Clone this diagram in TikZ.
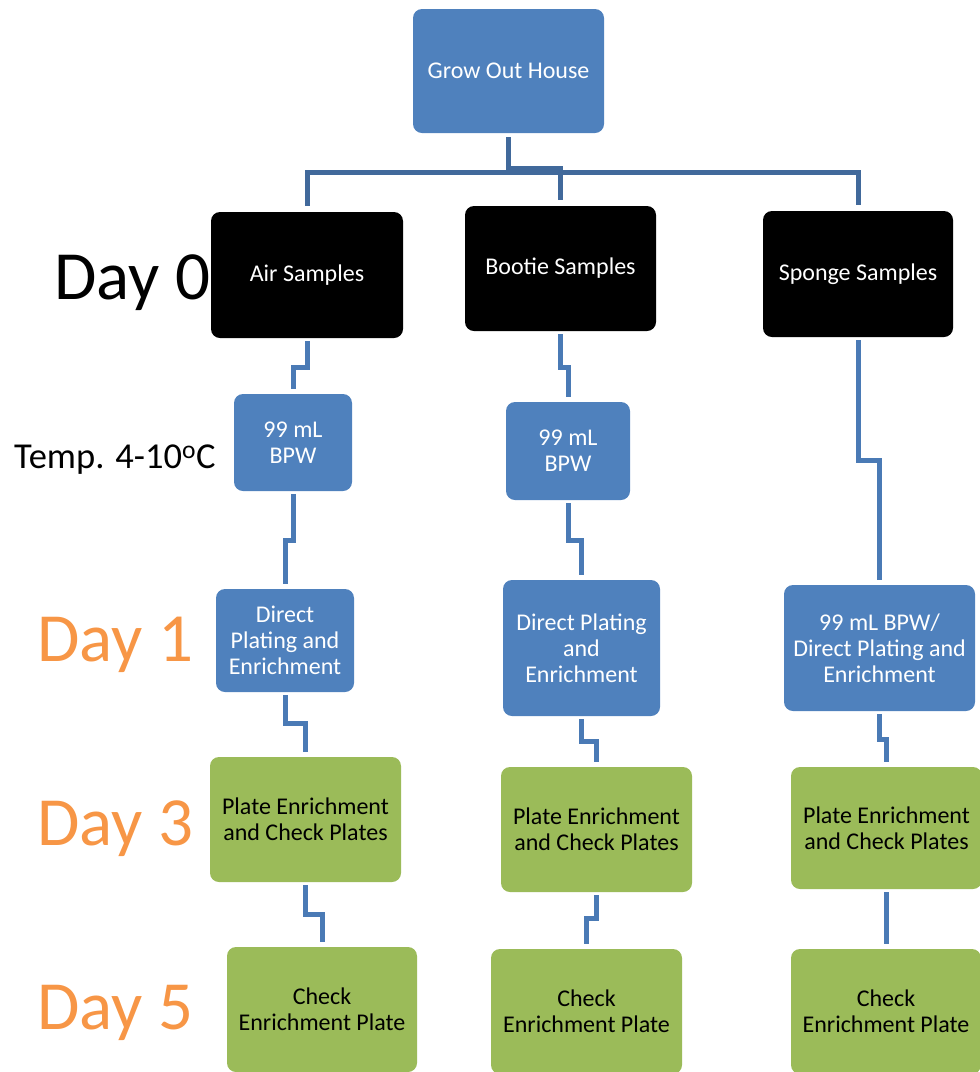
\documentclass[tikz,border=0pt]{standalone}
\usepackage{fontspec}
\setmainfont{Carlito}
\usetikzlibrary{calc}
\definecolor{boxblue}{HTML}{4F81BD}
\definecolor{boxgreen}{HTML}{9BBB59}
\definecolor{lineblue}{HTML}{4A7AB5}
\definecolor{topline}{HTML}{41699B}
\definecolor{dayorange}{HTML}{F79646}
\begin{document}
\begin{tikzpicture}[x=1pt,y=-1pt,
  box/.style={rounded corners=9pt, inner sep=0pt, align=center, font=\fontsize{24}{26}\selectfont},
  bluebox/.style={box, fill=boxblue, text=white},
  blackbox/.style={box, fill=black, text=white},
  greenbox/.style={box, fill=boxgreen, text=black},
  conn/.style={draw=lineblue, line width=5pt, shorten <=3pt, shorten >=5pt},
  topconn/.style={draw=topline, line width=5pt},
  daylabel/.style={anchor=base west, inner sep=0pt, font=\fontsize{69}{72}\selectfont}
]
\useasboundingbox (0,0) rectangle (980,1072);
% top
\node[bluebox, minimum width=191pt, minimum height=124pt] (grow) at (508.5,71) {Grow Out House};
\node[blackbox, minimum width=192pt, minimum height=126pt] (air) at (307,275) {Air Samples};
\node[blackbox, minimum width=191pt, minimum height=125pt] (bootie) at (560.5,268.5) {Bootie Samples};
\node[blackbox, minimum width=190pt, minimum height=126pt] (sponge) at (858,274) {Sponge Samples};
% BPW
\node[bluebox, minimum width=118pt, minimum height=97pt] (bpwA) at (293,442.5) {99 mL\\BPW};
\node[bluebox, minimum width=124pt, minimum height=98pt] (bpwB) at (568,451) {99 mL\\BPW};
% direct plating
\node[bluebox, minimum width=138pt, minimum height=103pt] (dpA) at (285,640.5) {Direct\\Plating and\\Enrichment};
\node[bluebox, minimum width=157pt, minimum height=136pt] (dpB) at (581.5,648) {Direct Plating\\and\\Enrichment};
\node[bluebox, minimum width=191pt, minimum height=126pt] (dpS) at (879.5,648) {99 mL BPW/\\Direct Plating and\\Enrichment};
% plate enrichment
\node[greenbox, minimum width=191pt, minimum height=125pt] (plA) at (305.5,819.5) {Plate Enrichment\\and Check Plates};
\node[greenbox, minimum width=191pt, minimum height=125pt] (plB) at (596.5,829.5) {Plate Enrichment\\and Check Plates};
\node[greenbox, minimum width=191pt, minimum height=122pt] (plS) at (886.5,828) {Plate Enrichment\\and Check Plates};
% check
\node[greenbox, minimum width=190pt, minimum height=125pt] (chA) at (322,1009.5) {Check\\Enrichment Plate};
\node[greenbox, minimum width=191pt, minimum height=125pt] (chB) at (586.5,1011.5) {Check\\Enrichment Plate};
\node[greenbox, minimum width=190pt, minimum height=125pt] (chS) at (886,1011.5) {Check\\Enrichment Plate};
% labels
\node[daylabel, text=black] (day0) at (54,299) {Day 0};
\node[anchor=base west, inner sep=0pt, font=\fontsize{36.5}{40}\selectfont] (temp) at (14,468) {Temp. 4-10\textsuperscript{o}C};
\node[daylabel, text=dayorange] (day1) at (37,661) {Day 1};
\node[daylabel, text=dayorange] (day3) at (37,845) {Day 3};
\node[daylabel, text=dayorange] (day5) at (37,1029) {Day 5};
% connectors top
\draw[topconn, shorten <=4pt, shorten >=6pt] (grow.south) -- ++(0,39) -| (air.north);
\draw[topconn, shorten >=6pt] (grow.south) ++(0,35) -| (bootie.north);
\draw[topconn, shorten >=6pt] (grow.south) ++(0,39) -| (sponge.north);
% connectors
\draw[conn] (air.south) -- ++(0,29) -| (bpwA.north);
\draw[conn] (bpwA.south) -- ++(0,49) -| (dpA.north);
\draw[conn] (bootie.south) -- ++(0,36) -| (bpwB.north);
\draw[conn] (bpwB.south) -- ++(0,40) -| (dpB.north);
\draw[conn] (sponge.south) -- ++(0,123) -| (dpS.north);
\draw[conn] (dpA.south) -- ++(0,31) -| (plA.north);
\draw[conn] (dpB.south) -- ++(0,25) -| (plB.north);
\draw[conn] (dpS.south) -- ++(0,28) -| (plS.north);
\draw[conn] (plA.south) -- ++(0,32) -| (chA.north);
\draw[conn] (plB.south) -- ++(0,26) -| (chB.north);
\draw[conn] (plS.south) -- (plS.south |- chS.north);
\end{tikzpicture}
\end{document}
